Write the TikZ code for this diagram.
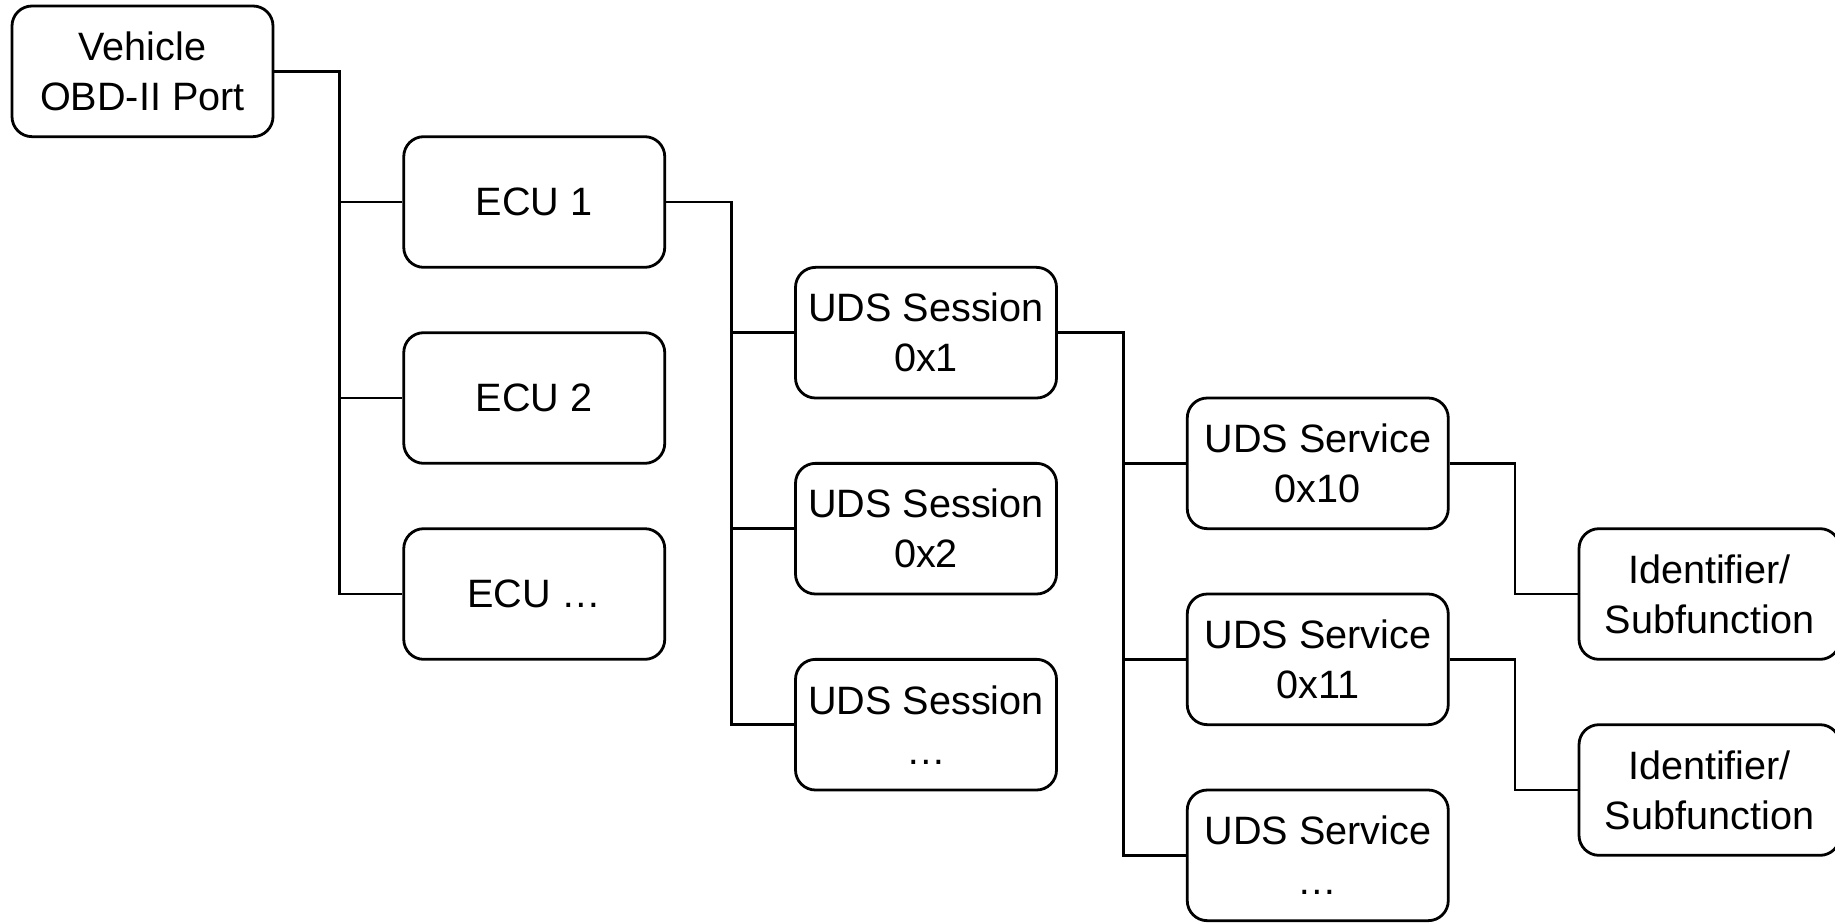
\documentclass[tikz,border=0pt]{standalone}
\usepackage{fontspec}
\setmainfont{Liberation Sans}
\begin{document}
\begin{tikzpicture}[x=0.5pt,y=-0.5pt,
  box/.style={draw=black, line width=1.4pt, rounded corners=10pt, fill=white,
    minimum width=130.5pt, minimum height=65.33pt, inner sep=0pt,
    align=center, font=\fontsize{19.8pt}{25pt}\selectfont},
  link/.style={draw=black, line width=1.4pt},
  elbow/.style={to path={-- ++(65.375,0) |- (\tikztotarget)}}]
\useasboundingbox (0,0) rectangle (1835,922);
% rows: cy = 71.33 + 130.67 r ; columns: cx = 142.5 + 391.75 i
\node[box] (veh) at (142.5,71.33) {Vehicle\\OBD-II Port};
\node[box] (ecu1) at (534.25,202) {ECU 1};
\node[box] (ecu2) at (534.25,398) {ECU 2};
\node[box] (ecun) at (534.25,594) {ECU …};
\node[box] (ses1) at (926,332.67) {UDS Session\\0x1};
\node[box] (ses2) at (926,528.67) {UDS Session\\0x2};
\node[box] (sesn) at (926,724.67) {UDS Session\\…};
\node[box] (srv10) at (1317.75,463.33) {UDS Service\\0x10};
\node[box] (srv11) at (1317.75,659.33) {UDS Service\\0x11};
\node[box] (srvn) at (1317.75,855.33) {UDS Service\\…};
\node[box] (id1) at (1709.5,594) {Identifier/\\Subfunction};
\node[box] (id2) at (1709.5,790) {Identifier/\\Subfunction};
\path[link] (veh.east) to[elbow] (ecu1.west);
\path[link] (veh.east) to[elbow] (ecu2.west);
\path[link] (veh.east) to[elbow] (ecun.west);
\path[link] (ecu1.east) to[elbow] (ses1.west);
\path[link] (ecu1.east) to[elbow] (ses2.west);
\path[link] (ecu1.east) to[elbow] (sesn.west);
\path[link] (ses1.east) to[elbow] (srv10.west);
\path[link] (ses1.east) to[elbow] (srv11.west);
\path[link] (ses1.east) to[elbow] (srvn.west);
\path[link] (srv10.east) to[elbow] (id1.west);
\path[link] (srv11.east) to[elbow] (id2.west);
\end{tikzpicture}
\end{document}
